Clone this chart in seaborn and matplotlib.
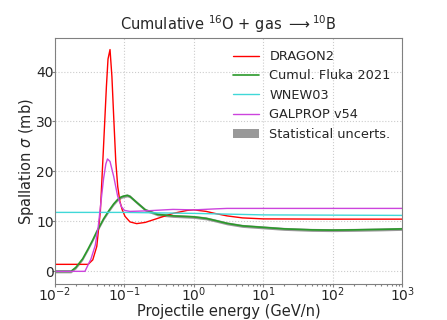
import numpy as np
import pandas as pd
import seaborn as sns
import matplotlib
matplotlib.use('Agg')
import matplotlib.pyplot as plt

# ---- data (energy in GeV/n, sigma in mb) ----
dragon_E = [0.01, 0.03, 0.035, 0.04, 0.045, 0.05, 0.055, 0.058, 0.062, 0.066, 0.07, 0.075,
            0.08, 0.086, 0.093, 0.102, 0.12, 0.15, 0.2, 0.3, 0.5, 0.8, 1.0, 1.5, 2.0, 3.0,
            5.0, 10.0, 100.0, 1000.0]
dragon_s = [1.4, 1.4, 2.3, 5.0, 12.0, 25.0, 37.0, 42.5, 44.4, 39.0, 31.0, 22.0,
            17.0, 14.0, 12.3, 11.0, 9.9, 9.55, 9.8, 10.6, 11.6, 12.2, 12.3, 12.0, 11.6, 11.1,
            10.7, 10.5, 10.45, 10.45]

fluka_E = [0.01, 0.017, 0.02, 0.025, 0.03, 0.035, 0.04, 0.045, 0.05, 0.06, 0.07, 0.08,
           0.09, 0.1, 0.11, 0.12, 0.15, 0.2, 0.3, 0.5, 1.0, 1.5, 2.0, 3.0, 5.0, 10.0,
           20.0, 50.0, 100.0, 200.0, 500.0, 1000.0]
fluka_s = [0.0, 0.0, 0.8, 2.5, 4.5, 6.3, 8.0, 9.3, 10.5, 12.2, 13.5, 14.4,
           14.9, 15.1, 15.2, 15.0, 13.8, 12.3, 11.4, 11.1, 10.9, 10.6, 10.2, 9.6, 9.1, 8.8,
           8.5, 8.3, 8.25, 8.3, 8.4, 8.5]
fluka_err = 0.3

wnew_E = [0.01, 0.1, 1.0, 10.0, 1000.0]
wnew_s = [11.8, 11.8, 11.6, 11.3, 11.2]

galprop_E = [0.01, 0.027, 0.033, 0.038, 0.042, 0.046, 0.05, 0.054, 0.057, 0.062, 0.07,
             0.08, 0.09, 0.1, 0.12, 0.2, 0.5, 1.0, 2.0, 3.0, 1000.0]
galprop_s = [0.0, 0.0, 2.5, 5.2, 9.0, 14.0, 18.5, 21.5, 22.5, 22.0, 19.0,
             15.0, 13.0, 12.2, 12.0, 12.1, 12.4, 12.3, 12.5, 12.6, 12.6]

sns.set_style('whitegrid', {'grid.linestyle': ':', 'axes.edgecolor': '0.5'})
plt.rcParams['font.family'] = ['DejaVu Sans']

fig, ax = plt.subplots(figsize=(4.47, 3.2), dpi=100)
fig.subplots_adjust(left=0.123, right=0.9, top=0.88, bottom=0.1125)

df_d = pd.DataFrame({'E': dragon_E, 's': dragon_s})
df_f = pd.DataFrame({'E': fluka_E, 's': fluka_s})
df_w = pd.DataFrame({'E': wnew_E, 's': wnew_s})
df_g = pd.DataFrame({'E': galprop_E, 's': galprop_s})

ax.fill_between(fluka_E, np.array(fluka_s) - fluka_err, np.array(fluka_s) + fluka_err,
                color='gray', alpha=0.8, lw=0, label='Statistical uncerts.', zorder=2)
sns.lineplot(data=df_d, x='E', y='s', color='red', lw=1, label='DRAGON2', ax=ax)
sns.lineplot(data=df_f, x='E', y='s', color='#2a9a2a', lw=1.2, label='Cumul. Fluka 2021', ax=ax)
sns.lineplot(data=df_w, x='E', y='s', color='#40d8d8', lw=1, label='WNEW03', ax=ax)
sns.lineplot(data=df_g, x='E', y='s', color='#cc44dd', lw=1, label='GALPROP v54', ax=ax)

ax.set_xscale('log')
ax.set_xlim(1e-2, 1e3)
ax.set_xlabel('Projectile energy (GeV/n)', fontsize=10.5, labelpad=0)
ax.set_ylabel(r'Spallation $\sigma$ (mb)', fontsize=10.5, labelpad=0)
ax.set_title(r'Cumulative $^{16}$O + gas $\longrightarrow$$^{10}$B', fontsize=10.5)
# small grey outward ticks, labels tucked close to the axes
ax.tick_params(which='both', bottom=True, left=True, color='0.5', width=0.8)
ax.tick_params(which='major', length=2.5, labelsize=10, pad=-1.5)
ax.tick_params(which='minor', length=1.5)

h, l = ax.get_legend_handles_labels()
order = [l.index(n) for n in ['DRAGON2', 'Cumul. Fluka 2021', 'WNEW03', 'GALPROP v54',
                              'Statistical uncerts.']]
ax.legend([h[i] for i in order], [l[i] for i in order], loc='upper right',
          frameon=False, fontsize=9.3)

plt.savefig('out.png', dpi=100)
